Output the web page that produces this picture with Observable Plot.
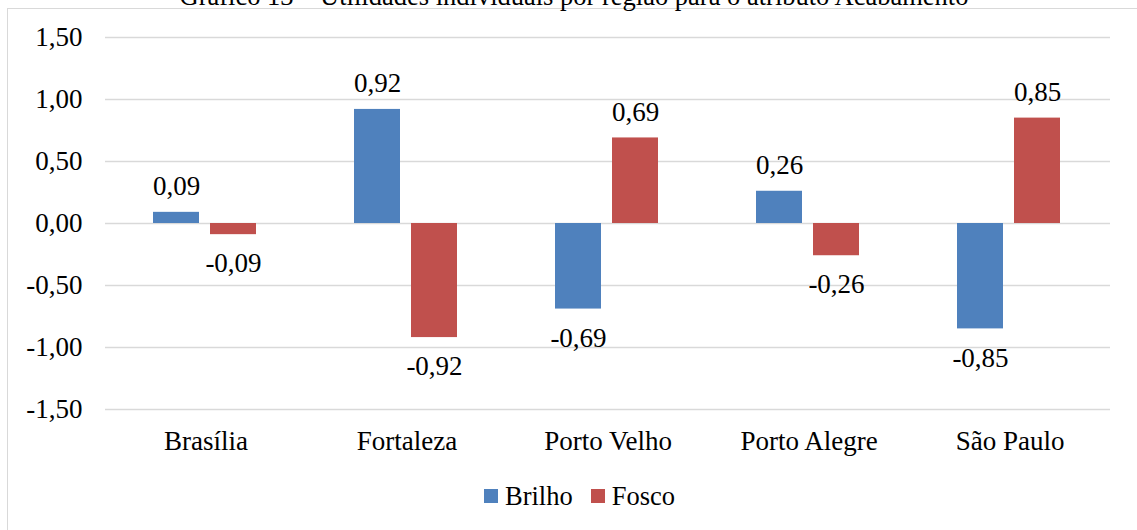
<!DOCTYPE html>
<html>
<head>
<meta charset="utf-8">
<script src="https://cdn.jsdelivr.net/npm/d3@7"></script>
<script src="https://cdn.jsdelivr.net/npm/@observablehq/plot@0.6"></script>
<style>
  html, body { margin: 0; padding: 0; background: white; overflow: hidden; }
  body { width: 1137px; height: 530px; position: relative; font-family: "Liberation Serif", "Times New Roman", serif; }
  #box { position: absolute; left: 7px; top: 8px; width: 1200px; height: 600px; border: 1.5px solid #d9d9d9; box-sizing: border-box; }
  #title { position: absolute; left: 574px; top: -17.5px; transform: translateX(-50%); white-space: nowrap; font-size: 26.5px; line-height: 26px; color: #000; }
  #chart { position: absolute; left: 0; top: 0; }
  #legend { position: absolute; left: 484px; top: 483px; height: 26px; display: flex; align-items: center; font-size: 26.5px; line-height: 26px; color: #000; }
  #legend .sw { width: 14px; height: 14px; display: inline-block; margin-right: 7px; }
  #legend .item { display: flex; align-items: center; margin-right: 18px; }
</style>
</head>
<body>
<div id="box"></div>
<div id="title">Gráfico 13 – Utilidades individuais por região para o atributo Acabamento</div>
<div id="chart"></div>
<div id="legend"></div>
<script>
const regions = ["Brasília", "Fortaleza", "Porto Velho", "Porto Alegre", "São Paulo"];
const series = ["Brilho", "Fosco"];
const brilho = [0.09, 0.92, -0.69, 0.26, -0.85];
const fosco = [-0.09, -0.92, 0.69, -0.26, 0.85];
const colors = ["#4F81BD", "#C0504D"];
const yTicks = [-1.5, -1.0, -0.5, 0.0, 0.5, 1.0, 1.5];

const data = [];
regions.forEach((r, i) => {
  data.push({region: r, series: "Brilho", value: brilho[i]});
  data.push({region: r, series: "Fosco", value: fosco[i]});
});

const fmt = d => d.toFixed(2).replace(".", ",");

const plot = Plot.plot({
  width: 1137,
  height: 465,
  marginLeft: 103,
  marginRight: 25,
  marginTop: 37,
  marginBottom: 56,
  style: {fontFamily: "'Liberation Serif', 'Times New Roman', serif", fontSize: "27px", background: "none", color: "#000"},
  fx: {domain: regions, padding: 0, label: null},
  x: {domain: series, paddingInner: 0.2, paddingOuter: 0.86, axis: null},
  y: {domain: [-1.5, 1.5], label: null},
  color: {domain: series, range: colors},
  marks: [
    Plot.gridY(yTicks, {stroke: "#d9d9d9", strokeOpacity: 1, strokeWidth: 1.5}),
    Plot.axisY(yTicks, {tickSize: 0, tickPadding: 23, tickFormat: fmt, fontSize: 27, label: null}),
    Plot.axisFx({anchor: "bottom", tickSize: 0, tickPadding: 21, fontSize: 27, label: null}),
    Plot.barY(data, {fx: "region", x: "series", y1: 0, y2: "value", fill: "series", dx: -1}),
    Plot.text(data.filter(d => d.value >= 0), {fx: "region", x: "series", y: "value", text: d => fmt(d.value), dx: -1, dy: -26, fontSize: 27, fill: "#000", lineAnchor: "middle"}),
    Plot.text(data.filter(d => d.value < 0), {fx: "region", x: "series", y: "value", text: d => fmt(d.value), dx: -1, dy: 29, fontSize: 27, fill: "#000", lineAnchor: "middle"})
  ]
});
document.getElementById("chart").appendChild(plot);

const legend = document.getElementById("legend");
series.forEach((s, i) => {
  const item = document.createElement("span");
  item.className = "item";
  const sw = document.createElement("span");
  sw.className = "sw";
  sw.style.background = colors[i];
  item.appendChild(sw);
  item.appendChild(document.createTextNode(s));
  legend.appendChild(item);
});
</script>
</body>
</html>
